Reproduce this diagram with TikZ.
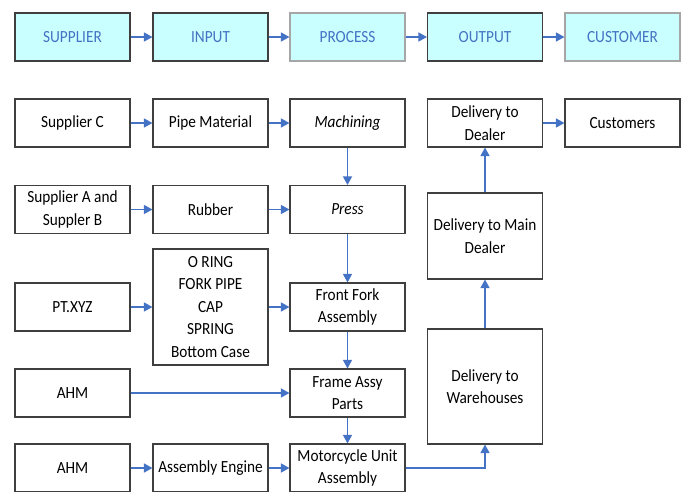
\documentclass[tikz,border=0pt]{standalone}
\usepackage{fontspec}
\setmainfont{Carlito}[FakeStretch=0.9]
\usetikzlibrary{arrows.meta}
\definecolor{flowblue}{HTML}{4472C4}
\definecolor{stagefill}{HTML}{C9FFFF}
\definecolor{boxline}{HTML}{3F3F3F}
\definecolor{softline}{HTML}{A6A6A6}
\tikzset{
  box/.style={draw=boxline, line width=1.1pt, fill=white, minimum width=115pt,
    minimum height=48pt, inner sep=0pt, align=center,
    font=\fontsize{17}{22.5}\selectfont, text=black},
  stage/.style={box, fill=stagefill, text=flowblue, font=\fontsize{17}{20}\selectfont},
  softstage/.style={stage, draw=softline},
  arr/.style={draw=flowblue, line width=1.3pt, -{Triangle[length=8.5pt,width=9pt]}}
}
\begin{document}
\begin{tikzpicture}[x=1pt,y=-1pt]
\useasboundingbox (0,0) rectangle (688,491);
\clip (0,0) rectangle (688,491);
% stage header
\node[stage]     (sup)  at (72.5,37)  {SUPPLIER};
\node[stage]     (inp)  at (210.5,37) {INPUT};
\node[softstage] (proc) at (347.5,37) {PROCESS};
\node[stage]     (out)  at (485,37)   {OUTPUT};
\node[softstage] (cus)  at (622.5,37) {CUSTOMER};
% suppliers
\node[box] (supc) at (72.5,123)   {Supplier C};
\node[box] (supab) at (72.5,209.5) {Supplier A and\\Suppler B};
\node[box] (pt)   at (72.5,307)   {PT.XYZ};
\node[box] (ahma) at (72.5,393)   {AHM};
\node[box] (ahmb) at (72.5,468)   {AHM};
% inputs
\node[box] (pipe) at (210.5,123)  {Pipe Material};
\node[box] (rub)  at (210.5,209.5){Rubber};
\node[box, minimum height=116pt] (parts) at (210.5,307)
  {O RING\\FORK PIPE\\CAP\\SPRING\\Bottom Case};
\node[box] (eng)  at (210.5,468)  {Assembly Engine};
% process
\node[box] (mach) at (347.5,123)  {\itshape Machining};
\node[box] (press) at (347.5,209.5){\itshape Press};
\node[box] (fork) at (347.5,307)  {Front Fork\\Assembly};
\node[box] (frame) at (347.5,393) {Frame Assy\\Parts};
\node[box] (moto) at (347.5,468)  {Motorcycle Unit\\Assembly};
% output
\node[box] (dealer) at (485,123) {Delivery to\\Dealer};
\node[box, minimum height=86pt] (main) at (485,236) {Delivery to Main\\Dealer};
\node[box, minimum height=115pt] (ware) at (485,386.5) {Delivery to\\Warehouses};
% customer
\node[box] (custs) at (622.5,123) {Customers};
% connectors
\draw[arr] (sup) -- (inp);
\draw[arr] (inp) -- (proc);
\draw[arr] (proc) -- (out);
\draw[arr] (out) -- (cus);
\draw[arr] (supc) -- (pipe);
\draw[arr] (pipe) -- (mach);
\draw[arr] (supab) -- (rub);
\draw[arr] (rub) -- (press);
\draw[arr] (pt) -- (parts);
\draw[arr] (parts) -- (fork);
\draw[arr] (ahma) -- (frame);
\draw[arr] (ahmb) -- (eng);
\draw[arr] (eng) -- (moto);
\draw[arr] (mach) -- (press);
\draw[arr] (press) -- (fork);
\draw[arr] (fork) -- (frame);
\draw[arr] (frame) -- (moto);
\draw[arr] (moto.east) -| (ware.south);
\draw[arr] (ware) -- (main);
\draw[arr] (main) -- (dealer);
\draw[arr] (dealer) -- (custs);
\end{tikzpicture}
\end{document}
